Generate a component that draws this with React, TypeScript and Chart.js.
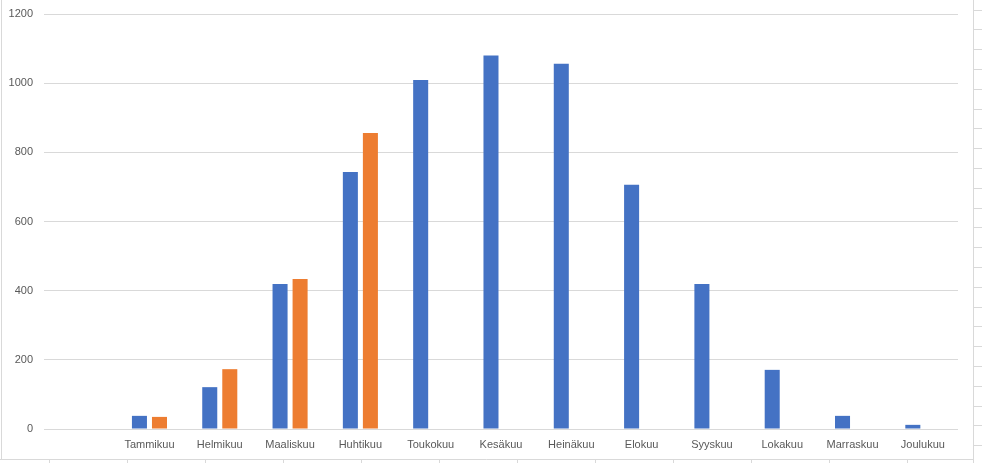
import React, { useEffect, useRef } from "react";
import { Chart, registerables } from "chart.js";

Chart.register(...registerables);

const categories = ["", "Tammikuu", "Helmikuu", "Maaliskuu", "Huhtikuu", "Toukokuu", "Kesäkuu", "Heinäkuu", "Elokuu", "Syyskuu", "Lokakuu", "Marraskuu", "Joulukuu"];
const seriesA = [null, 38, 121, 419, 743, 1009, 1080, 1056, 706, 419, 171, 38, 12];
const seriesB = [null, 35, 173, 434, 856, null, null, null, null, null, null, null, null];
const yTicks = [0, 200, 400, 600, 800, 1000, 1200];

const frameColor = "#d9d9d9";

const framePlugin = {
  id: "frame",
  afterDraw(chart: any) {
    const ctx = chart.ctx;
    ctx.save();
    ctx.strokeStyle = frameColor;
    ctx.lineWidth = 1;
    ctx.beginPath();
    ctx.moveTo(1.5, 0);
    ctx.lineTo(1.5, 459.5);
    ctx.moveTo(0, 459.5);
    ctx.lineTo(973.5, 459.5);
    ctx.moveTo(973.5, 0);
    ctx.lineTo(973.5, 463);
    for (let x = 49.5; x < 973; x += 78) {
      ctx.moveTo(x, 459.5);
      ctx.lineTo(x, 463);
    }
    for (let y = 9.5; y < 463; y += 19.8) {
      const yy = Math.round(y) + 0.5;
      ctx.moveTo(974, yy);
      ctx.lineTo(982, yy);
    }
    ctx.stroke();
    ctx.restore();
  },
};

export default function App() {
  const ref = useRef<HTMLCanvasElement | null>(null);

  useEffect(() => {
    if (!ref.current) return;
    const chart = new Chart(ref.current, {
      type: "bar",
      data: {
        labels: categories,
        datasets: [
          { label: "A", data: seriesA as any, backgroundColor: "#4472C4", categoryPercentage: 0.57, barPercentage: 0.75 },
          { label: "B", data: seriesB as any, backgroundColor: "#ED7D31", categoryPercentage: 0.57, barPercentage: 0.75 },
        ],
      },
      options: {
        animation: false,
        responsive: false,
        maintainAspectRatio: false,
        layout: { padding: { left: 0, right: 24, top: 14, bottom: 0 } },
        plugins: { legend: { display: false }, tooltip: { enabled: false } },
        scales: {
          x: {
            grid: { display: false, drawTicks: false },
            border: { display: false },
            ticks: {
              color: "#595959",
              font: { family: "'Liberation Sans', Arial, sans-serif", size: 11 },
              padding: 9,
              maxRotation: 0,
              autoSkip: false,
            },
            afterFit(scale: any) {
              scale.height = 34;
            },
          },
          y: {
            min: 0,
            max: 1200,
            grid: { color: frameColor, drawTicks: false, lineWidth: 1 },
            border: { display: false },
            afterBuildTicks(scale: any) {
              scale.ticks = yTicks.map((v) => ({ value: v }));
            },
            ticks: {
              color: "#595959",
              font: { family: "'Liberation Sans', Arial, sans-serif", size: 11 },
              padding: 11,
              callback: (v: any) => String(v),
            },
            afterFit(scale: any) {
              scale.width = 44;
              scale.paddingTop = 0;
              scale.paddingBottom = 0;
            },
          },
        },
      },
      plugins: [framePlugin],
    });
    return () => chart.destroy();
  }, []);

  return (
    <div style={{ position: "fixed", left: 0, top: 0, width: 982, height: 463, background: "#fff" }}>
      <canvas ref={ref} width={982} height={463} style={{ display: "block", width: 982, height: 463 }} />
    </div>
  );
}
